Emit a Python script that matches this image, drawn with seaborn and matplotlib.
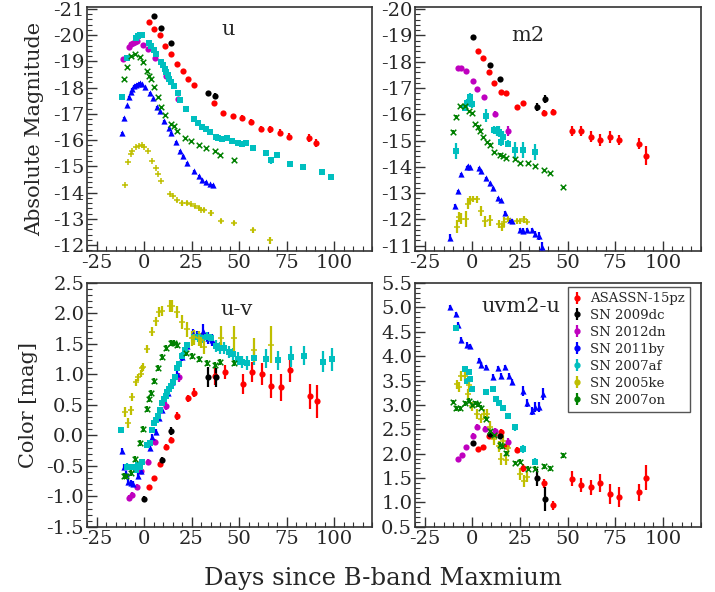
import matplotlib
matplotlib.use("Agg")
import matplotlib.pyplot as plt
from matplotlib.lines import Line2D
from matplotlib.ticker import MultipleLocator
import seaborn as sns

# ---- ASASSN-15pz (red) ----
asassn_u_day = [2.6, 5.2, 8.3, 11.3, 14.3, 17.4, 20.3, 23.1, 26.4, 36.9, 41.7, 46.8, 51.7, 56.2, 61.7, 66.1, 71.5, 76.3, 86.6, 90.6]
asassn_u_mag = [-20.51, -20.25, -19.99, -19.58, -19.30, -18.92, -18.63, -18.35, -18.10, -17.41, -17.02, -16.91, -16.86, -16.71, -16.43, -16.41, -16.28, -16.13, -16.09, -15.90]
asassn_u_err = [0.03, 0.03, 0.03, 0.03, 0.03, 0.03, 0.03, 0.03, 0.03, 0.07, 0.07, 0.08, 0.1, 0.1, 0.12, 0.13, 0.13, 0.13, 0.14, 0.15]
asassn_m2_day = [3.0, 5.6, 8.7, 11.7, 14.9, 17.7, 23.6, 26.9, 37.6, 42.5, 52.3, 57.0, 62.4, 66.8, 72.2, 76.9, 87.4, 91.4]
asassn_m2_mag = [-18.42, -18.13, -17.62, -17.18, -16.86, -16.80, -16.29, -16.42, -16.06, -16.09, -15.36, -15.37, -15.15, -15.03, -15.13, -15.02, -14.89, -14.42]
asassn_m2_err = [0.04, 0.04, 0.05, 0.05, 0.05, 0.05, 0.06, 0.06, 0.1, 0.1, 0.18, 0.18, 0.2, 0.22, 0.22, 0.2, 0.21, 0.36]
asassn_uv_day = [2.6, 5.2, 8.3, 11.6, 14.4, 17.4, 23.1, 26.4, 37.2, 42.5, 51.9, 56.6, 62.2, 66.6, 72.0, 76.9, 87.2, 91.2]
asassn_uv_col = [-0.845, -0.70, -0.476, -0.187, -0.07, 0.32, 0.61, 0.70, 0.97, 1.04, 0.84, 1.04, 1.01, 0.81, 0.79, 1.07, 0.64, 0.56]
asassn_uv_err = [0.04, 0.04, 0.04, 0.05, 0.05, 0.06, 0.06, 0.07, 0.15, 0.12, 0.16, 0.17, 0.18, 0.2, 0.22, 0.2, 0.2, 0.27]
asassn_uvm2_day = [3.0, 5.6, 8.7, 11.7, 14.9, 17.7, 23.6, 26.9, 37.6, 42.5, 52.3, 57.0, 62.4, 66.8, 72.2, 76.9, 87.4, 91.4]
asassn_uvm2_col = [2.09, 2.14, 2.37, 2.41, 2.45, 2.15, 2.08, 1.71, 1.39, 0.94, 1.49, 1.36, 1.31, 1.40, 1.17, 1.11, 1.21, 1.51]
asassn_uvm2_err = [0.03, 0.03, 0.04, 0.04, 0.05, 0.05, 0.06, 0.08, 0.1, 0.09, 0.15, 0.15, 0.15, 0.18, 0.2, 0.2, 0.17, 0.25]

# ---- SN 2009dc (black) ----
sn09dc_u_day = [5.2, 9.2, 14.1, 33.6, 37.6]
sn09dc_u_mag = [-20.72, -20.29, -19.71, -17.80, -17.68]
sn09dc_u_err = [0.03, 0.03, 0.04, 0.08, 0.1]
sn09dc_m2_day = [0.3, 9.6, 14.5, 34.1, 38.3]
sn09dc_m2_mag = [-18.96, -17.88, -17.34, -16.29, -16.57]
sn09dc_m2_err = [0.04, 0.06, 0.07, 0.15, 0.15]
sn09dc_uv_day = [0.0, 9.3, 14.0, 33.7, 37.9]
sn09dc_uv_col = [-1.04, -0.40, 0.075, 0.96, 0.95]
sn09dc_uv_err = [0.05, 0.05, 0.07, 0.17, 0.16]
sn09dc_uvm2_day = [0.3, 9.1, 14.5, 34.1, 38.3]
sn09dc_uvm2_col = [2.22, 2.41, 2.36, 1.51, 1.07]
sn09dc_uvm2_err = [0.05, 0.05, 0.06, 0.17, 0.25]

# ---- SN 2012dn (magenta) ----
sn12dn_u_day = [-11.3, -7.8, -6.6, -5.6, -4.7, -3.8, -0.3, 2.1, 5.9, 11.5, 17.7]
sn12dn_u_mag = [-19.10, -19.56, -19.68, -19.72, -19.75, -19.77, -19.61, -19.47, -19.15, -18.46, -17.57]
sn12dn_u_err = [0.03, 0.03, 0.03, 0.03, 0.03, 0.03, 0.03, 0.03, 0.03, 0.03, 0.03]
sn12dn_m2_day = [-7.5, -5.8, -3.5, 0.5, 2.6, 6.3, 11.9, 18.7]
sn12dn_m2_mag = [-17.75, -17.75, -17.65, -17.27, -16.95, -16.65, -16.02, -15.36]
sn12dn_m2_err = [0.04, 0.04, 0.04, 0.05, 0.05, 0.08, 0.1, 0.2]
sn12dn_uv_day = [-7.9, -6.1, -3.8, -1.5, 2.1, 5.6, 11.5, 18.4]
sn12dn_uv_col = [-1.03, -0.97, -0.845, -0.58, -0.44, -0.11, 0.48, 0.95]
sn12dn_uv_err = [0.05, 0.05, 0.05, 0.05, 0.05, 0.05, 0.06, 0.07]
sn12dn_uvm2_day = [-7.3, -5.6, -3.5, 0.5, 2.4, 6.5, 11.9, 18.7]
sn12dn_uvm2_col = [1.90, 1.97, 2.14, 2.37, 2.55, 2.51, 2.47, 2.24]
sn12dn_uvm2_err = [0.04, 0.04, 0.04, 0.05, 0.05, 0.06, 0.06, 0.08]

# ---- SN 2011by (blue) ----
sn11by_u_day = [-11.7, -10.4, -9.2, -7.8, -7.0, -6.1, -5.2, -4.0, -3.0, -2.1, -1.2, 0.5, 3.1, 4.9, 7.0, 8.3, 10.4, 13.0, 14.3, 16.9, 18.8, 20.3, 22.6, 26.4, 28.7, 30.4, 32.7, 34.8, 36.5]
sn11by_u_mag = [-16.29, -16.86, -17.33, -17.65, -17.84, -17.94, -18.06, -18.12, -18.16, -18.17, -18.13, -18.01, -17.80, -17.59, -17.27, -17.10, -16.74, -16.48, -16.28, -15.94, -15.59, -15.40, -15.14, -14.83, -14.65, -14.48, -14.41, -14.32, -14.29]
sn11by_u_err = [0.03] * 29
sn11by_m2_day = [-11.4, -9.1, -7.5, -5.8, -2.6, -2.1, -1.4, 3.5, 4.7, 7.5, 9.3, 11.0, 13.5, 14.9, 17.1, 19.8, 21.0, 25.3, 26.7, 28.8, 31.5, 33.2, 35.0, 36.7]
sn11by_m2_mag = [-11.31, -12.52, -13.07, -13.72, -14.00, -14.03, -14.00, -13.94, -13.84, -13.56, -13.37, -13.18, -12.80, -12.73, -12.25, -11.99, -11.94, -11.59, -11.56, -11.59, -11.59, -11.46, -11.37, -10.95]
sn11by_m2_err = [0.12, 0.08, 0.06, 0.05, 0.05, 0.05, 0.05, 0.05, 0.05, 0.05, 0.06, 0.06, 0.06, 0.06, 0.08, 0.08, 0.08, 0.1, 0.1, 0.1, 0.1, 0.12, 0.14, 0.2]
sn11by_uv_day = [-11.7, -10.5, -9.3, -8.2, -7.0, -5.8, -3.1, -1.4, 3.0, 4.4, 6.1, 7.9, 9.6, 12.6, 14.9, 17.5, 19.8, 22.4, 25.9, 28.0, 30.9, 33.7, 35.8]
sn11by_uv_col = [-0.26, -0.52, -0.64, -0.77, -0.78, -0.80, -0.67, -0.59, -0.20, -0.03, 0.06, 0.28, 0.42, 0.69, 0.87, 1.00, 1.29, 1.47, 1.67, 1.64, 1.72, 1.60, 1.57]
sn11by_uv_err = [0.05, 0.05, 0.05, 0.05, 0.05, 0.05, 0.05, 0.05, 0.05, 0.05, 0.05, 0.05, 0.05, 0.06, 0.06, 0.06, 0.07, 0.07, 0.08, 0.08, 0.1, 0.1, 0.1]
sn11by_uvm2_day = [-11.4, -8.7, -7.5, -5.8, -2.6, -0.9, 3.5, 4.7, 7.5, 11.0, 13.5, 14.9, 17.1, 19.2, 21.0, 26.7, 28.8, 31.3, 32.9, 35.0, 37.1]
sn11by_uvm2_col = [5.00, 4.86, 4.64, 4.34, 4.23, 4.20, 3.92, 3.82, 3.77, 3.58, 3.75, 3.60, 3.77, 3.60, 3.47, 3.28, 3.04, 2.88, 2.96, 2.95, 3.22]
sn11by_uvm2_err = [0.04, 0.05, 0.05, 0.05, 0.05, 0.05, 0.05, 0.05, 0.05, 0.05, 0.05, 0.05, 0.05, 0.06, 0.06, 0.1, 0.08, 0.08, 0.1, 0.1, 0.12]

# ---- SN 2007af (cyan) ----
sn07af_u_day = [-11.8, -8.7, -4.3, -3.1, -2.1, -1.0, 2.6, 3.8, 5.2, 6.3, 8.7, 10.1, 11.0, 11.8, 12.5, 13.4, 14.3, 15.7, 17.7, 19.1, 21.9, 26.1, 28.2, 30.6, 32.7, 34.8, 37.7, 39.1, 41.2, 43.5, 46.1, 49.6, 51.5, 53.9, 57.4, 64.0, 67.0, 69.9, 76.9, 83.8, 93.9, 98.3]
sn07af_u_mag = [-17.65, -19.15, -19.91, -19.96, -19.99, -20.01, -19.71, -19.59, -19.45, -19.30, -18.98, -18.86, -18.72, -18.60, -18.48, -18.34, -18.22, -18.06, -17.80, -17.52, -17.17, -16.79, -16.66, -16.51, -16.43, -16.33, -16.13, -16.09, -16.03, -16.09, -15.96, -15.90, -15.87, -15.90, -15.71, -15.52, -15.23, -15.42, -15.11, -14.98, -14.79, -14.60]
sn07af_u_err = [0.03] * 35 + [0.08, 0.12, 0.08, 0.08, 0.08, 0.1, 0.1]
sn07af_m2_day = [-8.4, -3.8, -2.6, -1.4, -0.9, -0.3, 7.3, 11.7, 13.1, 14.0, 15.2, 16.3, 18.9, 22.4, 26.6, 32.9]
sn07af_m2_mag = [-14.61, -16.26, -16.42, -16.67, -16.42, -16.39, -15.95, -15.41, -15.36, -15.34, -14.96, -15.15, -14.89, -14.64, -14.64, -14.57]
sn07af_m2_err = [0.3, 0.15, 0.15, 0.15, 0.15, 0.15, 0.25, 0.15, 0.2, 0.2, 0.15, 0.2, 0.15, 0.3, 0.3, 0.3]
sn07af_uv_day = [-11.9, -8.7, -5.6, -4.4, -3.1, -2.1, -0.9, 1.7, 3.0, 4.4, 5.2, 6.1, 7.3, 8.4, 9.6, 10.5, 11.4, 12.2, 13.1, 14.0, 15.0, 16.1, 17.5, 18.5, 20.1, 21.5, 22.7, 26.2, 28.3, 30.6, 32.9, 35.0, 38.1, 40.2, 42.3, 44.6, 46.9, 49.3, 51.7, 54.2, 57.7, 64.2, 70.5, 77.3, 84.3, 94.4, 98.8]
sn07af_uv_col = [0.09, -0.51, -0.52, -0.56, -0.48, -0.52, -0.43, -0.15, -0.12, 0.09, 0.20, 0.26, 0.32, 0.41, 0.53, 0.60, 0.64, 0.71, 0.76, 0.81, 0.87, 0.95, 1.11, 1.17, 1.31, 1.40, 1.48, 1.61, 1.61, 1.59, 1.61, 1.59, 1.47, 1.43, 1.43, 1.37, 1.33, 1.26, 1.20, 1.19, 1.27, 1.26, 1.23, 1.29, 1.31, 1.21, 1.25]
sn07af_uv_err = [0.05] * 27 + [0.08, 0.08, 0.08, 0.08, 0.08, 0.1, 0.1, 0.1, 0.1, 0.1, 0.1, 0.1, 0.12, 0.12, 0.15, 0.15, 0.17, 0.15, 0.17, 0.19]
sn07af_uvm2_day = [-8.4, -3.8, -2.6, -1.7, -0.9, -0.3, 7.3, 11.0, 12.6, 14.0, 16.1, 18.9, 22.4, 26.6, 32.9]
sn07af_uvm2_col = [4.58, 3.74, 3.50, 3.67, 3.53, 3.33, 3.26, 3.32, 3.13, 3.03, 2.93, 2.77, 2.54, 2.09, 1.84]
sn07af_uvm2_err = [0.06, 0.06, 0.06, 0.06, 0.06, 0.06, 0.06, 0.06, 0.06, 0.06, 0.06, 0.06, 0.07, 0.08, 0.08]

# ---- SN 2005ke (yellow) ----
sn05ke_u_day = [-10.1, -8.2, -7.0, -6.1, -4.0, -2.6, -1.2, 0.0, 2.3, 4.3, 6.1, 7.5, 9.2, 13.6, 15.3, 17.4, 20.0, 22.6, 24.9, 27.0, 28.7, 29.9, 31.7, 35.1, 40.3, 47.5, 57.4, 66.1]
sn05ke_u_mag = [-14.31, -15.16, -15.49, -15.58, -15.75, -15.78, -15.80, -15.75, -15.59, -15.21, -14.95, -14.72, -14.46, -13.94, -13.88, -13.71, -13.59, -13.61, -13.56, -13.49, -13.43, -13.36, -13.33, -13.23, -12.93, -12.86, -12.57, -12.19]
sn05ke_u_err = [0.03] * 13 + [0.04, 0.04, 0.05, 0.08, 0.08, 0.06, 0.06, 0.06, 0.06, 0.07, 0.1, 0.08, 0.08, 0.1, 0.14]
sn05ke_m2_day = [-8.2, -7.0, -5.8, -3.5, -2.3, -1.2, 0.5, 2.3, 4.4, 6.6, 9.3, 14.0, 15.4, 16.6, 18.7, 23.3, 25.3, 27.1, 28.5]
sn05ke_m2_mag = [-11.72, -12.10, -12.03, -12.03, -12.60, -12.73, -12.77, -12.76, -12.33, -11.93, -11.97, -11.84, -11.72, -11.91, -12.00, -11.93, -11.93, -12.00, -11.91]
sn05ke_m2_err = [0.25, 0.2, 0.2, 0.3, 0.2, 0.15, 0.12, 0.12, 0.2, 0.2, 0.2, 0.15, 0.15, 0.2, 0.1, 0.1, 0.1, 0.15, 0.1]
sn05ke_uv_day = [-10.1, -8.2, -7.0, -6.1, -4.0, -3.1, -1.7, -0.9, -0.3, 1.7, 4.4, 6.1, 7.9, 9.3, 13.6, 14.9, 17.5, 20.1, 22.7, 25.0, 26.2, 28.8, 30.1, 31.8, 40.6, 47.6, 57.7, 66.8]
sn05ke_uv_col = [0.385, 0.20, 0.41, 0.63, 0.87, 0.95, 1.01, 1.10, 1.12, 1.42, 1.70, 1.87, 2.03, 2.04, 2.12, 2.12, 2.02, 1.86, 1.74, 1.59, 1.61, 1.59, 1.56, 1.45, 1.60, 1.59, 1.40, 1.49]
sn05ke_uv_err = [0.08, 0.08, 0.07, 0.07, 0.06, 0.06, 0.06, 0.06, 0.06, 0.07, 0.07, 0.07, 0.08, 0.08, 0.1, 0.1, 0.1, 0.12, 0.12, 0.12, 0.12, 0.12, 0.12, 0.12, 0.2, 0.2, 0.2, 0.3]
sn05ke_uvm2_day = [-8.2, -7.0, -5.8, -4.0, -2.3, -1.6, 0.0, 2.3, 4.4, 6.1, 7.9, 9.1, 11.7, 14.0, 14.9, 16.3, 17.5, 18.7, 25.3, 27.1, 28.5]
sn05ke_uvm2_col = [3.42, 3.36, 3.60, 3.60, 3.23, 3.40, 2.97, 2.82, 2.72, 2.82, 2.81, 2.55, 2.30, 2.15, 1.89, 2.27, 1.88, 2.11, 1.59, 1.44, 1.53]
sn05ke_uvm2_err = [0.1] * 11 + [0.12] * 10

# ---- SN 2007on (green) ----
sn07on_u_day = [-10.4, -9.0, -7.0, -4.7, -2.3, -0.7, 1.4, 2.6, 3.5, 5.2, 7.5, 9.2, 11.3, 14.3, 15.7, 17.4, 21.7, 24.9, 28.7, 32.7, 37.4, 40.0, 47.3]
sn07on_u_mag = [-18.35, -18.79, -19.20, -19.30, -19.17, -18.98, -18.64, -18.46, -18.34, -18.01, -17.63, -17.27, -16.95, -16.63, -16.53, -16.34, -16.10, -15.96, -15.81, -15.71, -15.58, -15.43, -15.23]
sn07on_u_err = [0.03] * 23
sn07on_m2_day = [-10.1, -8.7, -6.5, -3.8, -1.7, 0.0, 1.7, 3.0, 4.0, 5.6, 7.9, 9.6, 11.7, 14.5, 16.1, 17.8, 22.2, 25.3, 29.4, 33.2, 37.9, 40.7, 47.7]
sn07on_m2_mag = [-15.34, -15.91, -16.32, -16.32, -16.12, -16.04, -15.63, -15.53, -15.36, -15.12, -14.93, -14.85, -14.55, -14.47, -14.42, -14.33, -14.29, -14.13, -14.13, -14.03, -13.88, -13.75, -13.24]
sn07on_m2_err = [0.05] * 23
sn07on_uv_day = [-10.5, -9.3, -7.0, -4.7, -2.3, -0.7, 1.4, 2.6, 3.5, 5.2, 7.3, 9.3, 11.4, 14.3, 15.7, 17.5, 21.9, 25.0, 28.8, 32.9, 37.6, 40.2, 47.6]
sn07on_uv_col = [-0.66, -0.67, -0.61, -0.39, -0.12, 0.10, 0.44, 0.60, 0.69, 0.89, 1.11, 1.29, 1.43, 1.52, 1.51, 1.48, 1.35, 1.30, 1.26, 1.19, 1.16, 1.21, 1.19]
sn07on_uv_err = [0.05] * 23
sn07on_uvm2_day = [-10.1, -8.7, -6.5, -3.8, -1.7, -0.3, 1.7, 3.0, 4.4, 7.5, 9.6, 11.7, 14.5, 15.7, 17.8, 22.2, 25.3, 29.4, 33.2, 37.9, 40.7, 47.7]
sn07on_uvm2_col = [3.06, 2.93, 2.93, 3.03, 3.09, 2.99, 3.04, 3.01, 2.94, 2.72, 2.47, 2.39, 2.18, 2.15, 2.01, 1.81, 1.84, 1.69, 1.69, 1.74, 1.70, 1.97]
sn07on_uvm2_err = [0.05] * 22

sn_names = ['ASASSN-15pz', 'SN 2009dc', 'SN 2012dn', 'SN 2011by', 'SN 2007af', 'SN 2005ke', 'SN 2007on']
sn_colors = ['#ff0000', '#000000', '#bf00bf', '#0000ff', '#00bfbf', '#bfbf00', '#008000']
sn_markers = ['o', 'o', 'o', '^', 's', '+', 'x']

panel_titles = ['u', 'm2', 'u-v', 'uvm2-u']
panel_ylims = [(-11.78, -21.07), (-10.8, -20.08), (-1.5, 2.5), (0.5, 5.5)]

u_sets = [(asassn_u_day, asassn_u_mag, asassn_u_err), (sn09dc_u_day, sn09dc_u_mag, sn09dc_u_err),
          (sn12dn_u_day, sn12dn_u_mag, sn12dn_u_err), (sn11by_u_day, sn11by_u_mag, sn11by_u_err),
          (sn07af_u_day, sn07af_u_mag, sn07af_u_err), (sn05ke_u_day, sn05ke_u_mag, sn05ke_u_err),
          (sn07on_u_day, sn07on_u_mag, sn07on_u_err)]
m2_sets = [(asassn_m2_day, asassn_m2_mag, asassn_m2_err), (sn09dc_m2_day, sn09dc_m2_mag, sn09dc_m2_err),
           (sn12dn_m2_day, sn12dn_m2_mag, sn12dn_m2_err), (sn11by_m2_day, sn11by_m2_mag, sn11by_m2_err),
           (sn07af_m2_day, sn07af_m2_mag, sn07af_m2_err), (sn05ke_m2_day, sn05ke_m2_mag, sn05ke_m2_err),
           (sn07on_m2_day, sn07on_m2_mag, sn07on_m2_err)]
uv_sets = [(asassn_uv_day, asassn_uv_col, asassn_uv_err), (sn09dc_uv_day, sn09dc_uv_col, sn09dc_uv_err),
           (sn12dn_uv_day, sn12dn_uv_col, sn12dn_uv_err), (sn11by_uv_day, sn11by_uv_col, sn11by_uv_err),
           (sn07af_uv_day, sn07af_uv_col, sn07af_uv_err), (sn05ke_uv_day, sn05ke_uv_col, sn05ke_uv_err),
           (sn07on_uv_day, sn07on_uv_col, sn07on_uv_err)]
uvm2_sets = [(asassn_uvm2_day, asassn_uvm2_col, asassn_uvm2_err), (sn09dc_uvm2_day, sn09dc_uvm2_col, sn09dc_uvm2_err),
             (sn12dn_uvm2_day, sn12dn_uvm2_col, sn12dn_uvm2_err), (sn11by_uvm2_day, sn11by_uvm2_col, sn11by_uvm2_err),
             (sn07af_uvm2_day, sn07af_uvm2_col, sn07af_uvm2_err), (sn05ke_uvm2_day, sn05ke_uvm2_col, sn05ke_uvm2_err),
             (sn07on_uvm2_day, sn07on_uvm2_col, sn07on_uvm2_err)]

sns.set_theme(style='ticks')
plt.rcParams['font.family'] = ['DejaVu Serif']
plt.rcParams['axes.unicode_minus'] = False
plt.rcParams['xtick.direction'] = 'in'
plt.rcParams['ytick.direction'] = 'in'

fig = plt.figure(figsize=(7.15, 5.92), dpi=100)
positions = [[0.1217, 0.576, 0.3986, 0.412], [0.5804, 0.576, 0.4, 0.412],
             [0.1217, 0.110, 0.3986, 0.412], [0.5804, 0.110, 0.4, 0.412]]
title_pos = [(0.47, 0.91), (0.335, 0.885), (0.467, 0.89), (0.232, 0.905)]
all_sets = [u_sets, m2_sets, uv_sets, uvm2_sets]

axes = []
for i in range(4):
    ax = fig.add_axes(positions[i])
    axes.append(ax)
    for (day, val, err), col, mk in zip(all_sets[i], sn_colors, sn_markers):
        ax.errorbar(day, val, yerr=err, fmt='none', ecolor=col, elinewidth=1.6, capsize=0, zorder=2)
        lw = 1.1 if mk in ('x', '+') else 0
        size = 16 if mk in ('x', '+') else 20
        sns.scatterplot(x=day, y=val, ax=ax, color=col, marker=mk, s=size, linewidth=lw,
                        legend=False, zorder=3)
    ax.set_xlim(-30, 120)
    ax.set_ylim(*panel_ylims[i])
    ax.xaxis.set_major_locator(MultipleLocator(25))
    ax.xaxis.set_minor_locator(MultipleLocator(5))
    if i < 2:
        ax.yaxis.set_major_locator(MultipleLocator(1))
        ax.yaxis.set_minor_locator(MultipleLocator(0.2))
    else:
        ax.yaxis.set_major_locator(MultipleLocator(0.5))
        ax.yaxis.set_minor_locator(MultipleLocator(0.1))
    ax.tick_params(which='major', length=7, width=1, labelsize=14, color='#333333', pad=2)
    ax.tick_params(which='minor', length=3.5, width=0.8, color='#333333')
    for sp in ax.spines.values():
        sp.set_color('#333333')
        sp.set_linewidth(1.2)
    ax.set_xlabel('')
    ax.set_ylabel('')
    ax.text(title_pos[i][0], title_pos[i][1], panel_titles[i], transform=ax.transAxes,
            fontsize=15, ha='left', va='center')

axes[0].set_ylabel('Absolute Magnitude', fontsize=15, labelpad=6)
axes[2].set_ylabel('Color [mag]', fontsize=15, labelpad=6)
fig.text(0.535, 0.012, 'Days since B-band Maxmium', ha='center', va='baseline', fontsize=17.5)

handles = []
for col in sn_colors:
    bar = Line2D([], [], color=col, marker='|', markersize=9, markeredgewidth=1.6, linestyle='')
    dot = Line2D([], [], color=col, marker='o', markersize=3.5, linestyle='')
    handles.append((bar, dot))
leg = axes[3].legend(handles, sn_names, loc='upper right', bbox_to_anchor=(0.962, 0.984),
                     fontsize=9.5, frameon=True, fancybox=False, framealpha=1,
                     edgecolor='#555555', handlelength=0.6, handletextpad=0.7,
                     labelspacing=0.3, borderpad=0.4, borderaxespad=0)

fig.savefig('out.png', dpi=100)
